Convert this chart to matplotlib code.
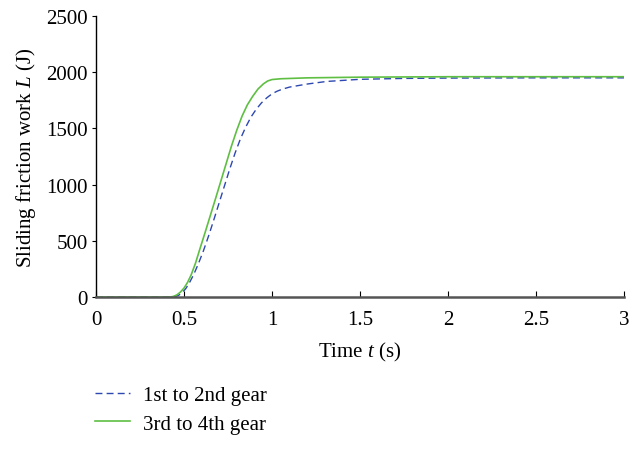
import matplotlib.pyplot as plt

plt.rcParams['font.family'] = 'Liberation Serif'
plt.rcParams['mathtext.fontset'] = 'custom'
plt.rcParams['mathtext.it'] = 'Liberation Serif:italic'
plt.rcParams['mathtext.rm'] = 'Liberation Serif'

# shift 1st -> 2nd gear
t_12 = [0, 0.43, 0.45, 0.47, 0.49, 0.51, 0.53, 0.555, 0.58, 0.61, 0.64, 0.67,
        0.70, 0.73, 0.76, 0.79, 0.82, 0.85, 0.88, 0.91, 0.94, 0.97, 1.0,
        1.03, 1.06, 1.1, 1.2, 1.31, 1.5, 1.75, 2.0, 2.5, 3.0]
L_12 = [0, 0, 4, 16, 40, 75, 125, 200, 290, 410, 545, 690,
        840, 990, 1140, 1280, 1405, 1510, 1600, 1670, 1727, 1772, 1808,
        1832, 1850, 1868, 1895, 1918, 1937, 1945, 1948, 1950, 1950]

# shift 3rd -> 4th gear
t_34 = [0, 0.42, 0.44, 0.46, 0.48, 0.50, 0.52, 0.54, 0.565, 0.59, 0.62, 0.65,
        0.68, 0.71, 0.74, 0.77, 0.80, 0.83, 0.86, 0.89, 0.92, 0.95, 0.975,
        1.0, 1.05, 1.2, 1.5, 2.0, 3.0]
L_34 = [0, 0, 6, 20, 45, 80, 130, 195, 300, 427, 575, 728,
        880, 1035, 1190, 1345, 1485, 1610, 1710, 1785, 1850, 1895, 1922,
        1935, 1942, 1950, 1956, 1960, 1960]

fig = plt.figure(figsize=(6.4, 4.6), dpi=100)
ax = fig.add_axes([0.15, 0.352, 0.825, 0.611])

ax.plot(t_12, L_12, color='#2d48b0', lw=1.0, ls=(0, (5, 3)), label='1st to 2nd gear')
ax.plot(t_34, L_34, color='#5ebf42', lw=1.2, label='3rd to 4th gear')

ax.set_xlim(0, 3)
ax.set_ylim(0, 2500)
ax.set_xticks([0, 0.5, 1, 1.5, 2, 2.5, 3])
ax.set_xticklabels(['0', '0.5', '1', '1.5', '2', '2.5', '3'])
ax.set_yticks([0, 500, 1000, 1500, 2000, 2500])

ax.spines['top'].set_visible(False)
ax.spines['right'].set_visible(False)
ax.spines['bottom'].set_color('#555555')
ax.spines['bottom'].set_linewidth(1.8)
ax.spines['left'].set_linewidth(1.0)
ax.tick_params(axis='x', direction='in', length=4, labelsize=15, pad=9)
ax.tick_params(axis='y', direction='out', length=3, labelsize=15, pad=3)

ax.set_xlabel('Time $t$ (s)', fontsize=15, labelpad=8)
ax.set_ylabel('Sliding friction work $L$ (J)', fontsize=15, labelpad=6)

fig.legend(loc='upper left', bbox_to_anchor=(0.132, 0.182), frameon=False,
           fontsize=15, borderpad=0, handlelength=1.7, handletextpad=0.6,
           labelspacing=0.42)

fig.savefig('out.png', dpi=100)
